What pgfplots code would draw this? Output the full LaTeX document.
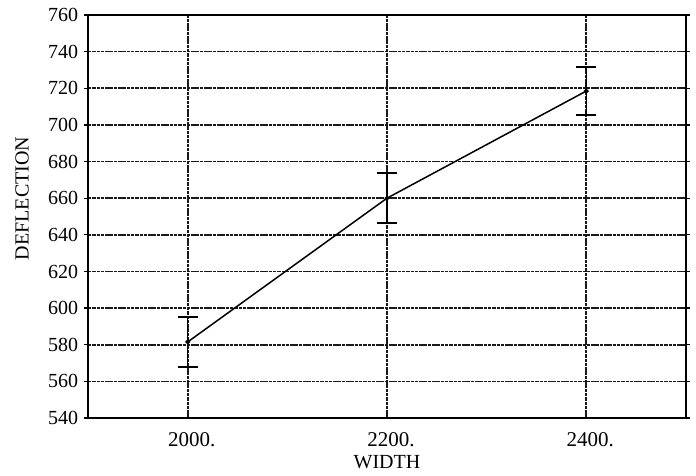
\documentclass[border=0pt]{standalone}
\usepackage{pgfplots}
\pgfplotsset{compat=1.18}
\usepackage{fontspec}
\setmainfont{Liberation Serif}
\begin{document}
\fontsize{20}{24}\selectfont
\begin{tikzpicture}
\useasboundingbox (-88pt,-58pt) rectangle (608pt,418pt);
\begin{axis}[
  at={(0,0)}, anchor=south west,
  scale only axis,
  width=598pt, height=403pt,
  xmin=1900, xmax=2500, ymin=540, ymax=760,
  xtick={2000,2200,2400},
  xticklabels={2000.,2200.,2400.},
  ytick={540,560,...,760},
  /pgf/number format/assume math mode=true,
  /pgf/number format/1000 sep={},
  grid=major,
  major grid style={black!90, line width=1.7pt, dash pattern=on 3.5pt off 0.8pt},
  axis line style={black, line width=1.6pt},
  tick style={black, line width=1.2pt},
  major tick length=4pt,
  tick align=outside,
  xtick style={draw=none},
  ticklabel style={font=\fontsize{20}{24}\selectfont},
  xticklabel style={yshift=-4pt, xshift=4pt, font=\fontsize{21}{25}\selectfont},
  yticklabel style={xshift=1pt},
  label style={font=\fontsize{20}{24}\selectfont},
  xlabel={WIDTH},
  ylabel={DEFLECTION},
  xlabel style={at={(axis description cs:0.5,0)}, anchor=center, yshift=-44pt},
  ylabel style={at={(axis description cs:0,0.5)}, anchor=center, xshift=18pt, yshift=66pt},
]
\addplot[black, line width=1.5pt, mark=*, mark size=1.6pt,
  error bars/.cd, y dir=both, y explicit,
  error bar style={line width=1.6pt},
  error mark options={rotate=90, mark size=10pt, line width=2pt}]
  coordinates {
  (2000,581.5) +- (0,13.5)
  (2200,660) +- (0,13.5)
  (2400,718.5) +- (0,13.3)
};
\end{axis}
\end{tikzpicture}
\end{document}
